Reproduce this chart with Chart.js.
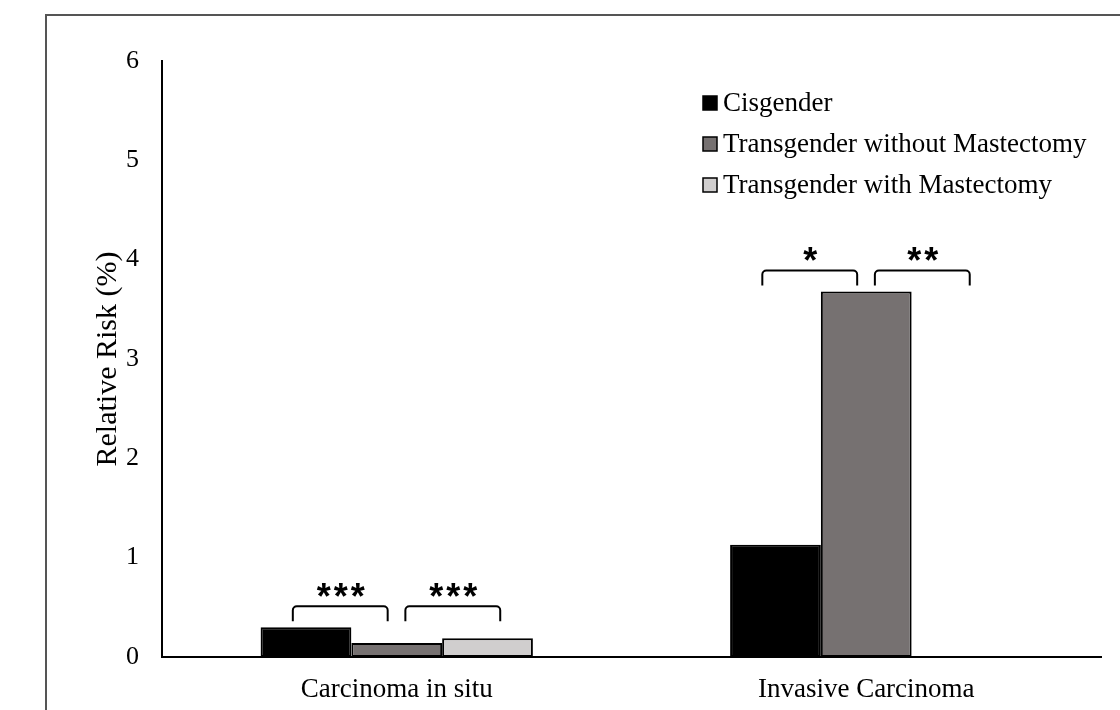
<!DOCTYPE html>
<html>
<head>
<meta charset="utf-8">
<script src="https://cdn.jsdelivr.net/npm/chart.js@4"></script>
<style>
  html, body { margin: 0; padding: 0; background: #fff; }
  #wrap { width: 1120px; height: 710px; }
</style>
</head>
<body>
<div id="wrap"><canvas id="chart" width="1120" height="710"></canvas></div>
<script>
// Data
var categories = ["Carcinoma in situ", "Invasive Carcinoma"];
var seriesNames = ["Cisgender", "Transgender without Mastectomy", "Transgender with Mastectomy"];
var cisgender = [0.30, 1.13];
var transNoMast = [0.14, 3.68];
var transMast = [0.19, null];
var yTicks = [0, 1, 2, 3, 4, 5, 6];
// significance marks per category: [left bracket, right bracket]
var sigMarks = [["***", "***"], ["*", "**"]];

var serif = "'Liberation Serif', 'Times New Roman', serif";
var fills = ["#000000", "#767171", "#d0cece"];

// frame, legend and brackets
var extras = {
    id: 'extras',
    beforeDraw: function (chart) {
        var c = chart.ctx;
        c.save();
        c.strokeStyle = '#555';
        c.lineWidth = 2;
        c.beginPath();
        c.moveTo(46, 710);
        c.lineTo(46, 15);
        c.lineTo(1120, 15);
        c.stroke();
        c.restore();
    },
    afterDraw: function (chart) {
        var c = chart.ctx;
        c.save();

        // legend
        c.font = "27px " + serif;
        c.textBaseline = 'middle';
        c.textAlign = 'left';
        for (var i = 0; i < seriesNames.length; i++) {
            var ly = 103 + i * 41;
            c.fillStyle = fills[i];
            c.fillRect(703, ly - 7, 14, 14);
            c.strokeStyle = '#000';
            c.lineWidth = 1.5;
            c.strokeRect(703, ly - 7, 14, 14);
            c.fillStyle = '#000';
            c.fillText(seriesNames[i], 723, ly + 1);
        }

        // brackets
        for (var k = 0; k < categories.length; k++) {
            var bars = [];
            var top = Infinity;
            chart.data.datasets.forEach(function (ds, di) {
                var el = chart.getDatasetMeta(di).data[k];
                bars.push(el);
                if (ds.data[k] != null) top = Math.min(top, el.y);
            });
            var w = bars[0].width;
            var mid = bars[1].x;
            var bBot = top - 6;
            var bTop = bBot - 15;
            var spans = [[mid - 1.145 * w, mid - 0.1 * w], [mid + 0.095 * w, mid + 1.14 * w]];
            for (var s = 0; s < 2; s++) {
                var x1 = spans[s][0], x2 = spans[s][1], r = 4;
                c.strokeStyle = '#000';
                c.lineWidth = 2;
                c.beginPath();
                c.moveTo(x1, bBot);
                c.arcTo(x1, bTop, x1 + r, bTop, r);
                c.arcTo(x2, bTop, x2, bTop + r, r);
                c.lineTo(x2, bBot);
                c.stroke();
                c.font = "bold 36px 'Liberation Sans', Arial, sans-serif";
                c.letterSpacing = '3px';
                c.textAlign = 'center';
                c.textBaseline = 'alphabetic';
                c.fillStyle = '#000';
                c.fillText(sigMarks[k][s], (x1 + x2) / 2 + 2, bTop + 3);
                c.letterSpacing = '0px';
            }
        }
        c.restore();
    }
};

var ctx = document.getElementById("chart");

var chartGraph = new Chart(ctx, {
    type: 'bar',
    data: {
        labels: categories,
        datasets: [
            { label: seriesNames[0], data: cisgender, backgroundColor: fills[0] },
            { label: seriesNames[1], data: transNoMast, backgroundColor: fills[1] },
            { label: seriesNames[2], data: transMast, backgroundColor: fills[2] }
        ].map(function (d) {
            d.borderColor = '#000';
            d.borderWidth = 2;
            d.borderSkipped = false;
            d.barPercentage = 1;
            d.categoryPercentage = 0.58;
            return d;
        })
    },
    options: {
        responsive: false,
        animation: false,
        events: [],
        layout: { padding: { top: 61, right: 19, bottom: 0, left: 0 } },
        plugins: { legend: { display: false }, tooltip: { enabled: false } },
        scales: {
            x: {
                grid: { display: false },
                border: { display: true, color: '#000', width: 2 },
                ticks: { color: '#000', font: { family: serif, size: 27 }, padding: 9 },
                afterFit: function (s) { s.height = 53; }
            },
            y: {
                min: 0,
                max: 6,
                afterBuildTicks: function (s) { s.ticks = yTicks.map(function (v) { return { value: v }; }); },
                grid: { display: false },
                border: { display: true, color: '#000', width: 2 },
                ticks: { color: '#000', font: { family: serif, size: 26 }, padding: 15 },
                title: {
                    display: true,
                    text: 'Relative Risk (%)',
                    color: '#000',
                    font: { family: serif, size: 30 },
                    padding: { top: 90, bottom: 0 }
                },
                afterFit: function (s) { s.width = 162; }
            }
        }
    },
    plugins: [extras]
});
</script>
</body>
</html>
